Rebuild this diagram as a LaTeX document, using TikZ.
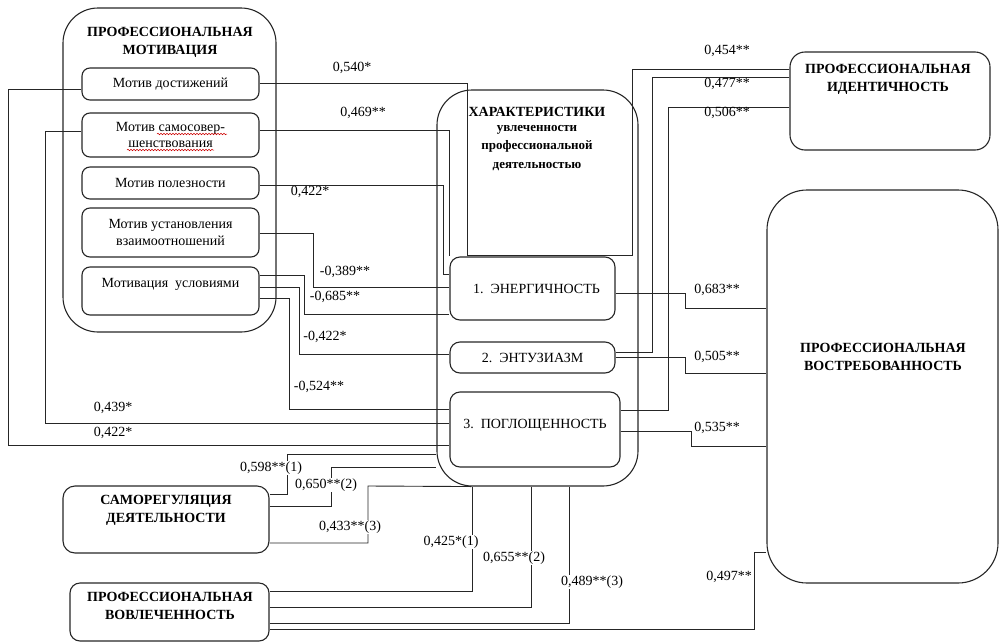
\documentclass[tikz,border=0pt]{standalone}
\usepackage{fontspec}
\setmainfont{Liberation Serif}
\usetikzlibrary{calc,decorations.pathmorphing}
\begin{document}
\begin{tikzpicture}[x=1pt,y=-1pt,
  box/.style={draw=black!85,line width=1.1pt,rounded corners=#1,inner sep=0pt},
  box/.default=8pt,
  ln/.style={draw=black!85,line width=0.9pt},
  txt/.style={font=\fontsize{14}{16.5}\selectfont,align=center,inner sep=0pt},
  ttl/.style={font=\fontsize{14}{18}\selectfont\bfseries,align=center,inner sep=0pt},
  sttl/.style={font=\fontsize{13}{18.5}\selectfont\bfseries,align=center,inner sep=0pt},
  val/.style={font=\fontsize{14}{15}\selectfont,inner sep=1pt},
  valw/.style={val,fill=white},
  squig/.style={draw=red!80!black,line width=0.5pt,decorate,decoration={snake,amplitude=0.8pt,segment length=3pt}}
]
\useasboundingbox (0,0) rectangle (1004,643);

% ---------- professional motivation ----------
\node[box=35pt,minimum width=213pt,minimum height=324pt] (motiv) at (169.5,170) {};
\node[ttl] (motivT) at (170,42) {ПРОФЕССИОНАЛЬНАЯ\\МОТИВАЦИЯ};
\node[box,txt,minimum width=177pt,minimum height=32pt] (dost) at (170.5,84) {Мотив достижений};
\node[box,txt,minimum width=177pt,minimum height=44pt] (samo) at (170.5,135) {Мотив самосовер-\\шенствования};
\node[box,txt,minimum width=177pt,minimum height=32pt] (polez) at (170.5,183) {Мотив полезности};
\node[box,txt,minimum width=177pt,minimum height=49pt] (vzaim) at (170.5,232.5) {Мотив установления\\взаимоотношений};
\node[box,txt,minimum width=177pt,minimum height=48pt,text height=9pt,text depth=16pt] (usl) at (170.5,291) {Мотивация\ \ условиями};

% ---------- characteristics ----------
\node[box=35pt,minimum width=201pt,minimum height=396pt] (char) at (537.5,288) {};
\node[ttl] (charT) at (537,112) {ХАРАКТЕРИСТИКИ};
\node[sttl] (charS) at (537,148) {увлеченности\\профессиональной\\деятельностью};
\node[box=10pt,txt,minimum width=165pt,minimum height=63pt] (energ) at (532.5,288.5) {\hspace*{8pt}1.\ \ ЭНЕРГИЧНОСТЬ};
\node[box=10pt,txt,minimum width=165pt,minimum height=31pt] (entuz) at (532.5,357.5) {2.\ \ ЭНТУЗИАЗМ};
\node[box=10pt,txt,minimum width=170pt,minimum height=75pt,text height=10pt,text depth=12pt] (pogl) at (535,429.5) {3.\ \ ПОГЛОЩЕННОСТЬ};

% ---------- right side ----------
\node[box=15pt,minimum width=200pt,minimum height=98pt] (ident) at (890,101) {};
\node[ttl] (identT) at (888,79) {ПРОФЕССИОНАЛЬНАЯ\\ИДЕНТИЧНОСТЬ};
\node[box=40pt,minimum width=231pt,minimum height=393pt] (vostr) at (882.5,386.5) {};
\node[ttl] (vostrT) at (883,356.5) {ПРОФЕССИОНАЛЬНАЯ\\ВОСТРЕБОВАННОСТЬ};

% ---------- bottom left ----------
\node[box=12pt,minimum width=206pt,minimum height=67pt] (samoreg) at (166,519.5) {};
\node[ttl] (samoregT) at (166,510.5) {САМОРЕГУЛЯЦИЯ\\ДЕЯТЕЛЬНОСТИ};
\node[box=10pt,minimum width=199pt,minimum height=58pt] (vovl) at (169.5,612) {};
\node[ttl] (vovlT) at (170,606) {ПРОФЕССИОНАЛЬНАЯ\\ВОВЛЕЧЕННОСТЬ};

% spell-check underline
\draw[squig] (157,134) -- (227,134);
\draw[squig] (127,150) -- (214,150);

% ---------- connectors ----------
\coordinate (top540) at (467,255);
\draw[ln] (dost.east |- 0,83) -| (top540);
\draw[ln] (samo.east |- 0,130) -| (energ.north west);
\draw[ln] (polez.east |- 0,185) -| (443,274) -- (energ.west |- 0,274);
\draw[ln] (vzaim.east |- 0,233) -| (313,287) -- (energ.west |- 0,287);
\draw[ln] (usl.east |- 0,275) -| (304,314) -- (energ.west |- 0,314);
\draw[ln] (usl.east |- 0,287) -| (299,354) -- (entuz.west |- 0,354);
\draw[ln] (usl.east |- 0,298) -| (289,409) -- (pogl.west |- 0,409);
\draw[ln] (samo.west |- 0,131) -| (45,423) -- (pogl.west |- 0,423);
\draw[ln] (dost.west |- 0,89) -| (8,445) -- (pogl.west |- 0,445);

\draw[ln] (ident.west |- 0,69) -| (632,255) -- (top540);
\draw[ln] (ident.west |- 0,77) -| (652,352) -- (entuz.east |- 0,352);
\draw[ln] (ident.west |- 0,107) -| (668,410) -- (pogl.east |- 0,410);

\draw[ln] (energ.east |- 0,293) -| (685,308) -- (vostr.west |- 0,308);
\draw[ln] (entuz.east |- 0,357) -| (685,373) -- (vostr.west |- 0,373);
\draw[ln] (pogl.east |- 0,431) -| (691,446) -- (vostr.west |- 0,446);

\draw[ln] (samoreg.east |- 0,494) -| (287,454) -- (char.west |- 0,454);
\draw[ln] (samoreg.east |- 0,506) -| (331,467) -- (char.west |- 0,467);
\draw[ln] (samoreg.east |- 0,543) -| (368,486) -- ($(char.south west)+(35,0)$);

\draw[ln] (vovl.east |- 0,591) -| (char.south -| 472,0);
\draw[ln] (vovl.east |- 0,607) -| (char.south -| 531,0);
\draw[ln] (vovl.east |- 0,623) -| (char.south -| 569,0);
\draw[ln] (vovl.east |- 0,629) -| (754,552) -- (vostr.west |- 0,552);

% ---------- values ----------
\node[val] (v540) at (352,68) {0,540*};
\node[val] (v469) at (363,113) {0,469**};
\node[val] (v422a) at (310,192) {0,422*};
\node[val] (v389) at (345,272) {-0,389**};
\node[val] (v685) at (335,297) {-0,685**};
\node[val] (v422b) at (325,337) {-0,422*};
\node[val] (v524) at (319,387) {-0,524**};
\node[val] (v439) at (113,408) {0,439*};
\node[val] (v422c) at (113,433) {0,422*};
\node[val] (v454) at (727,51) {0,454**};
\node[val] (v477) at (727,84) {0,477**};
\node[val] (v506) at (727,113) {0,506**};
\node[val] (v683) at (717,290) {0,683**};
\node[val] (v505) at (717,357) {0,505**};
\node[val] (v535) at (717,428) {0,535**};
\node[valw] (v598) at (271,468) {0,598**(1)};
\node[valw] (v650) at (326,485) {0,650**(2)};
\node[valw] (v433) at (350,527) {0,433**(3)};
\node[valw] (v425) at (451,542) {0,425*(1)};
\node[valw] (v655) at (514,558) {0,655**(2)};
\node[valw] (v489) at (592,582) {0,489**(3)};
\node[valw] (v497) at (729,577) {0,497**};
\end{tikzpicture}
\end{document}
